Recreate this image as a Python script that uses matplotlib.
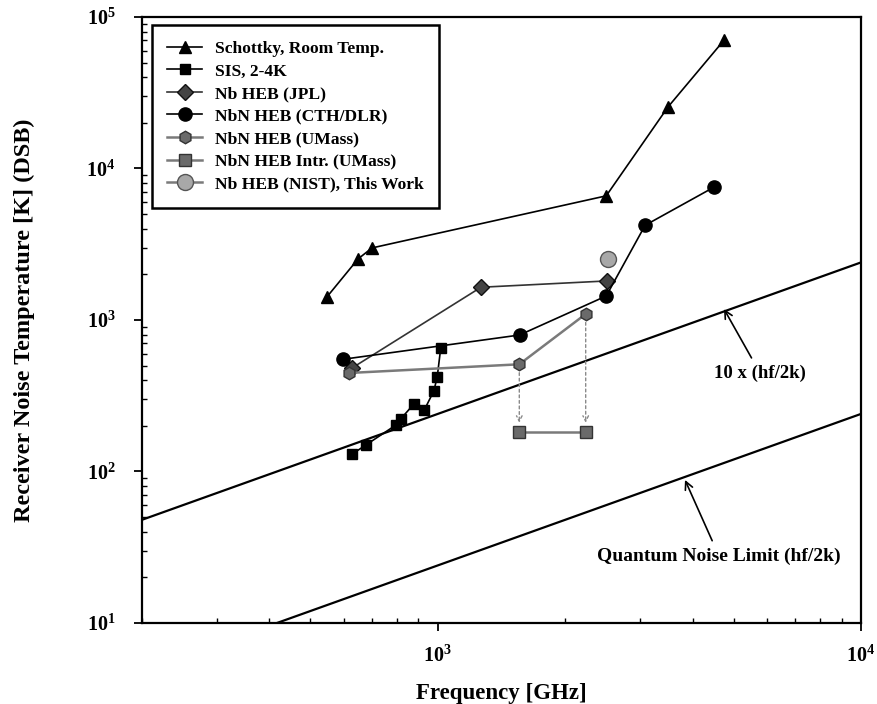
import numpy as np
import matplotlib
matplotlib.use("Agg")
import matplotlib.pyplot as plt
from matplotlib.ticker import FuncFormatter, NullFormatter, LogLocator

plt.rcParams["font.family"] = "Liberation Serif"
plt.rcParams["font.weight"] = "bold"
plt.rcParams["mathtext.fontset"] = "custom"
plt.rcParams["mathtext.rm"] = "Liberation Serif:bold"
plt.rcParams["mathtext.bf"] = "Liberation Serif:bold"

# ── DATA (frequency in GHz, T in K) ──────────────────────────────────────────
schottky_f = [547, 648, 699, 2500, 3500, 4750]
schottky_t = [1420, 2530, 2990, 6600, 25500, 70500]

sis_f = [627, 677, 795, 817, 879, 928, 979, 997, 1016]
sis_t = [130, 150, 202, 222, 280, 253, 341, 422, 653]

jpl_f = [627, 1265, 2505]
jpl_t = [482, 1645, 1810]

cth_f = [596, 1560, 2500, 3090, 4490]
cth_t = [550, 796, 1440, 4220, 7520]

umass_f = [617, 1558, 2236]
umass_t = [447, 510, 1095]

intr_f = [1558, 2236]
intr_t = [182, 182]

nist_f = [2520]
nist_t = [2516]

labels = ["Schottky, Room Temp.", "SIS, 2-4K", "Nb HEB (JPL)",
          "NbN HEB (CTH/DLR)", "NbN HEB (UMass)", "NbN HEB Intr. (UMass)",
          "Nb HEB (NIST), This Work"]

# quantum limit hf/2k, in K per GHz
H_OVER_2K = 6.62607e-34 * 1e9 / (2 * 1.380649e-23)
f_line = np.array([200.0, 10000.0])

GREY = "#7a7a7a"

fig = plt.figure(figsize=(8.78, 7.04), dpi=100)
ax = fig.add_axes([142 / 878, 1 - 623 / 704, (861 - 142) / 878, (623 - 17) / 704])
ax.set_xscale("log")
ax.set_yscale("log")

# reference lines
ax.plot(f_line, 10 * H_OVER_2K * f_line, color="black", lw=1.6)
ax.plot(f_line, H_OVER_2K * f_line, color="black", lw=1.6)

h1, = ax.plot(schottky_f, schottky_t, color="black", lw=1.2, marker="^",
              ms=9, mfc="black", mec="black")
h2, = ax.plot(sis_f, sis_t, color="black", lw=1.2, marker="s",
              ms=7, mfc="black", mec="black")
h3, = ax.plot(jpl_f, jpl_t, color="#333333", lw=1.2, marker="D",
              ms=8, mfc="#444444", mec="#111111")
h4, = ax.plot(cth_f, cth_t, color="black", lw=1.2, marker="o",
              ms=9.5, mfc="black", mec="black")
h5, = ax.plot(umass_f, umass_t, color=GREY, lw=1.8, marker="h",
              ms=9, mfc="#6a6a6a", mec="#333333")
h6, = ax.plot(intr_f, intr_t, color=GREY, lw=1.8, marker="s",
              ms=8, mfc="#6a6a6a", mec="#333333")
h7, = ax.plot(nist_f, nist_t, color=GREY, lw=1.8, marker="o",
              ms=11.5, mfc="#a8a8a8", mec="#555555")

# dotted arrows from UMass receiver points down to intrinsic values
for f, t_top in zip(intr_f, umass_t[1:]):
    ax.annotate("", xy=(f, intr_t[0] * 1.15), xytext=(f, t_top * 0.88),
                arrowprops=dict(arrowstyle="->", color="#8a8a8a", lw=1.0,
                                linestyle=(0, (2, 2)), shrinkA=0, shrinkB=0))

ann_kw = dict(ha="center", va="center", fontweight="bold",
              arrowprops=dict(arrowstyle="->", color="black", lw=1.2,
                              shrinkA=3, shrinkB=0, mutation_scale=14))
ax.annotate("10 x (hf/2k)", xy=(4745, 1182), xytext=(5772, 447),
            fontsize=13.5, **ann_kw)
ax.annotate("Quantum Noise Limit (hf/2k)", xy=(3838, 88), xytext=(4618, 27.7),
            fontsize=14, **ann_kw)

ax.set_xlim(200, 1e4)
ax.set_ylim(10, 1e5)

fmt = FuncFormatter(lambda v, p: r"$\mathbf{10^{%d}}$" % round(np.log10(v)))
ax.xaxis.set_major_locator(LogLocator(base=10))
ax.yaxis.set_major_locator(LogLocator(base=10))
ax.xaxis.set_major_formatter(fmt)
ax.yaxis.set_major_formatter(fmt)
ax.xaxis.set_minor_locator(LogLocator(base=10, subs=np.arange(2, 10)))
ax.yaxis.set_minor_locator(LogLocator(base=10, subs=np.arange(2, 10)))
ax.xaxis.set_minor_formatter(NullFormatter())
ax.yaxis.set_minor_formatter(NullFormatter())

ax.tick_params(which="major", direction="out", length=6, width=1.3,
               labelsize=14.5)
ax.tick_params(which="minor", direction="in", length=3.5, width=1.0)
ax.tick_params(axis="x", which="major", pad=10)
ax.tick_params(axis="y", which="major", pad=13)
for s in ax.spines.values():
    s.set_linewidth(1.6)

ax.set_xlabel("Frequency [GHz]", fontsize=16.5, fontweight="bold", labelpad=12)
ax.set_ylabel("Receiver Noise Temperature [K] (DSB)", fontsize=17.5,
              fontweight="bold", labelpad=37)

leg = ax.legend([h1, h2, h3, h4, h5, h6, h7], labels, loc="upper left",
                bbox_to_anchor=(0.0135, 0.987), borderaxespad=0,
                prop={"size": 12.6, "weight": "bold"}, frameon=True,
                fancybox=False, framealpha=1, edgecolor="black",
                handlelength=2.0, handletextpad=0.7,
                labelspacing=0.36, borderpad=0.9)
leg.get_frame().set_linewidth(1.8)

plt.savefig("out.png", dpi=100)
